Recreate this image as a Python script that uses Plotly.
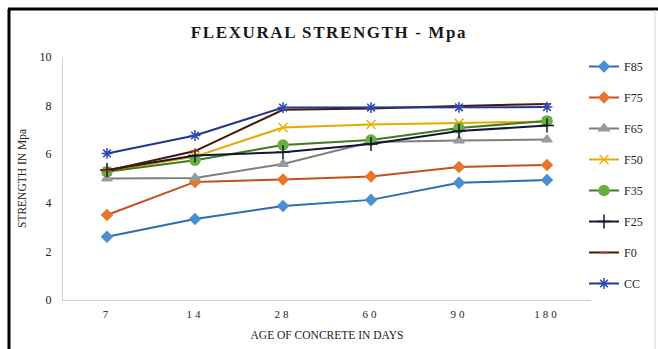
import plotly.graph_objects as go

ages = ["7", "14", "28", "60", "90", "180"]
age_labels = ['<span style="letter-spacing:3px">%s</span>' % a for a in ages]

f85 = [2.60, 3.33, 3.87, 4.12, 4.82, 4.94]
f75 = [3.50, 4.86, 4.96, 5.08, 5.47, 5.56]
f65 = [5.00, 5.02, 5.60, 6.50, 6.56, 6.60]
f50 = [5.30, 5.90, 7.10, 7.22, 7.28, 7.35]
f35 = [5.28, 5.75, 6.38, 6.58, 7.08, 7.37]
f25 = [5.35, 5.95, 6.08, 6.42, 6.95, 7.18]
f0 = [5.32, 6.13, 7.83, 7.88, 7.98, 8.07]
cc = [6.03, 6.77, 7.92, 7.92, 7.93, 7.94]

series = [
    ("F85", f85, "#2E6DB0", "#4A8FD0", "diamond", 8),
    ("F75", f75, "#C4501A", "#E8752B", "diamond", 8),
    ("F65", f65, "#7F7F7F", "#9A9A9A", "triangle-up", 9),
    ("F50", f50, "#E8A800", "#F0B400", "x-thin-open", 9),
    ("F35", f35, "#3F7A22", "#6AAE3F", "circle", 10),
    ("F25", f25, "#121733", "#121733", "cross-thin-open", 10),
    ("F0", f0, "#4A1508", "#B0301A", "line-ew-open", 6),
    ("CC", cc, "#1F3A8C", "#2B4BB0", "asterisk-open", 9),
]

serif = "Liberation Serif, Times New Roman, serif"

fig = go.Figure()
for name, vals, line_c, mark_c, sym, size in series:
    fig.add_trace(go.Scatter(
        x=ages, y=vals, name=name, mode="lines+markers",
        legendgroup=name,
        line=dict(color=line_c, width=2),
        marker=dict(symbol=sym, size=size, color=mark_c,
                    line=dict(color=mark_c, width=1.5)),
    ))

fig.update_layout(
    width=658, height=349,
    margin=dict(l=63, r=67, t=57, b=49, autoexpand=False),
    paper_bgcolor="white", plot_bgcolor="white",
    font=dict(family=serif, color="#222222", size=12),
    title=dict(text='<b><span style="letter-spacing:1.6px">FLEXURAL STRENGTH - Mpa</span></b>',
               x=0.5, xanchor="center", y=0.908, yanchor="middle",
               font=dict(family=serif, size=17, color="#1a1a1a")),
    showlegend=True,
    legend=dict(xref="container", yref="container",
                x=584 / 658, xanchor="left", y=1 - 52 / 349, yanchor="top",
                traceorder="grouped", tracegroupgap=12, itemwidth=30,
                maxheight=340,
                font=dict(family=serif, size=12, color="#222222"),
                bgcolor="rgba(0,0,0,0)"),
    xaxis=dict(type="category", range=[-0.5, 5.5], showgrid=False,
               showline=True, linecolor="#D0D0D0", linewidth=1, ticks="",
               tickmode="array", tickvals=ages, ticktext=age_labels,
               ticklabelstandoff=4,
               tickfont=dict(family=serif, size=11),
               title=dict(text="AGE OF CONCRETE IN DAYS",
                          font=dict(family=serif, size=11.5), standoff=11)),
    yaxis=dict(range=[0, 10], dtick=2, showgrid=False, showline=True,
               linecolor="#D0D0D0", linewidth=1, ticks="", zeroline=False,
               ticklabelstandoff=8,
               tickfont=dict(family=serif, size=12),
               title=dict(text="STRENGTH IN Mpa",
                          font=dict(family=serif, size=11.5), standoff=10)),
    shapes=[
        dict(type="line", xref="paper", yref="paper",
             x0=-55 / 528, x1=1 + 67 / 528, y0=1 + 48 / 243, y1=1 + 48 / 243,
             line=dict(color="black", width=3)),
        dict(type="line", xref="paper", yref="paper",
             x0=-54 / 528, x1=-54 / 528, y0=-49 / 243, y1=1 + 48 / 243,
             line=dict(color="black", width=3)),
        dict(type="line", xref="paper", yref="paper",
             x0=1 + 64 / 528, x1=1 + 64 / 528, y0=-49 / 243, y1=1 + 47 / 243,
             line=dict(color="#D8D8D8", width=1)),
    ],
)

fig.write_html("out.html")
